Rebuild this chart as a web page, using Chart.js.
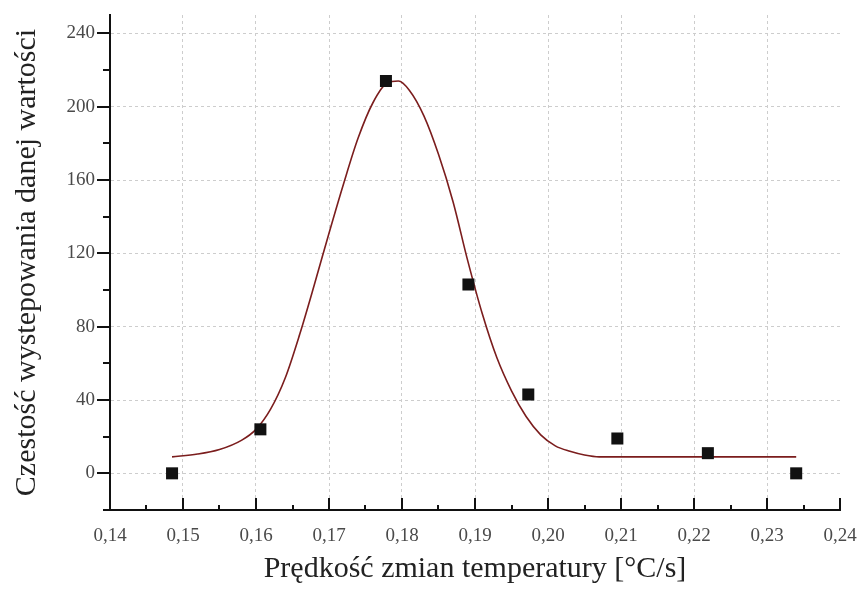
<!DOCTYPE html>
<html>
<head>
<meta charset="utf-8">
<script src="https://cdn.jsdelivr.net/npm/chart.js@4/dist/chart.umd.min.js"></script>
<style>
  body { margin: 0; background: #fff; }
  #chart { display: block; }
</style>
</head>
<body>
<canvas id="chart" width="867" height="592"></canvas>
<script>
'use strict';

// measured points (squares)
const pointX = [0.1485, 0.1606, 0.1778, 0.1891, 0.1973, 0.2095, 0.2219, 0.2340];
const pointY = [0, 24, 214, 103, 43, 19, 11, 0];

// fitted curve
const fitX = [0.1485, 0.152, 0.155, 0.158, 0.160, 0.162, 0.164, 0.166, 0.168, 0.170,
              0.172, 0.174, 0.176, 0.178, 0.1795, 0.181, 0.183, 0.185, 0.187, 0.189,
              0.191, 0.193, 0.195, 0.197, 0.199, 0.201, 0.203, 0.205, 0.207, 0.234];
const fitY = [9, 10.5, 13, 18, 24, 35, 52, 76, 103, 131,
              158, 183, 202, 213, 214, 209, 195, 174, 148, 116,
              87, 63, 45, 31, 21, 15, 12, 10, 9, 9];

// axes
const xTicks = [0.14, 0.15, 0.16, 0.17, 0.18, 0.19, 0.20, 0.21, 0.22, 0.23, 0.24];
const xMinorTicks = [0.145, 0.155, 0.165, 0.175, 0.185, 0.195, 0.205, 0.215, 0.225, 0.235];
const yTicks = [0, 40, 80, 120, 160, 200, 240];
const yMinorTicks = [-20, 20, 60, 100, 140, 180, 220];

const xTitle = 'Prędkość zmian temperatury [°C/s]';
const yTitle = 'Czestość wystepowania danej wartości';

const serif = "'Liberation Serif', 'DejaVu Serif', serif";

// tick marks: x ticks point up into the plot, y ticks point out to the left
const tickMarks = {
    id: 'tickMarks',
    afterDraw(chart) {
        const { ctx, chartArea, scales } = chart;
        const x = scales.x, y = scales.y;
        ctx.save();
        ctx.strokeStyle = '#111';
        ctx.lineWidth = 2;
        ctx.beginPath();
        xTicks.forEach(v => {
            const px = Math.round(x.getPixelForValue(v));
            ctx.moveTo(px, chartArea.bottom);
            ctx.lineTo(px, chartArea.bottom - 12);
        });
        xMinorTicks.forEach(v => {
            const px = Math.round(x.getPixelForValue(v));
            ctx.moveTo(px, chartArea.bottom);
            ctx.lineTo(px, chartArea.bottom - 5);
        });
        yTicks.forEach(v => {
            const py = Math.round(y.getPixelForValue(v));
            ctx.moveTo(chartArea.left, py);
            ctx.lineTo(chartArea.left - 13, py);
        });
        yMinorTicks.forEach(v => {
            const py = Math.round(y.getPixelForValue(v));
            ctx.moveTo(chartArea.left, py);
            ctx.lineTo(chartArea.left - 7, py);
        });
        ctx.stroke();
        ctx.restore();
    }
};

function setupChart() {
    const fitData = fitX.map((v, i) => ({ x: v, y: fitY[i] }));
    const pointData = pointX.map((v, i) => ({ x: v, y: pointY[i] }));

    new Chart(document.getElementById('chart'), {
        type: 'scatter',
        data: {
            datasets: [
                {
                    label: 'points',
                    data: pointData,
                    pointStyle: 'rect',
                    pointRadius: 8.5,
                    backgroundColor: '#111',
                    borderColor: '#111',
                    borderWidth: 0,
                    order: 0
                },
                {
                    label: 'fit',
                    data: fitData,
                    showLine: true,
                    pointRadius: 0,
                    borderColor: '#7b1d1d',
                    borderWidth: 1.6,
                    cubicInterpolationMode: 'monotone',
                    order: 1
                }
            ]
        },
        options: {
            responsive: false,
            devicePixelRatio: 1,
            animation: false,
            layout: { padding: { top: 15, right: 27, left: 0, bottom: 0 } },
            plugins: {
                legend: { display: false },
                tooltip: { enabled: false }
            },
            scales: {
                x: {
                    type: 'linear',
                    min: 0.14,
                    max: 0.24,
                    afterBuildTicks: axis => { axis.ticks = xTicks.map(v => ({ value: v })); },
                    afterFit: axis => {
                        axis.height = 82;
                        axis.paddingLeft = 0;
                        axis.paddingRight = 0;
                    },
                    ticks: {
                        autoSkip: false,
                        maxRotation: 0,
                        padding: 15,
                        color: '#4a4a4a',
                        font: { family: serif, size: 19 },
                        callback: v => v.toFixed(2).replace('.', ',')
                    },
                    grid: {
                        drawTicks: false,
                        lineWidth: 1,
                        color: ctx => (ctx.index === 0 || ctx.index === xTicks.length - 1) ? 'rgba(0,0,0,0)' : '#cdcdcd'
                    },
                    border: { display: true, color: '#111', width: 2, dash: [3, 3] },
                    title: {
                        display: true,
                        text: xTitle,
                        color: '#222',
                        font: { family: serif, size: 30 },
                        padding: { top: 0, bottom: 5 }
                    }
                },
                y: {
                    type: 'linear',
                    min: -20,
                    max: 250,
                    afterBuildTicks: axis => { axis.ticks = yTicks.map(v => ({ value: v })); },
                    afterFit: axis => {
                        axis.width = 110;
                        axis.paddingTop = 0;
                        axis.paddingBottom = 0;
                    },
                    ticks: {
                        padding: 15,
                        color: '#4a4a4a',
                        font: { family: serif, size: 19 },
                        callback: v => String(v)
                    },
                    grid: {
                        drawTicks: false,
                        lineWidth: 1,
                        color: '#cdcdcd'
                    },
                    border: { display: true, color: '#111', width: 2, dash: [3, 3] },
                    title: {
                        display: true,
                        text: yTitle,
                        color: '#222',
                        font: { family: serif, size: 30 },
                        padding: { top: 9, bottom: 0 }
                    }
                }
            }
        },
        plugins: [tickMarks]
    });
}

window.onload = () => {
    setupChart();
};
</script>
</body>
</html>
